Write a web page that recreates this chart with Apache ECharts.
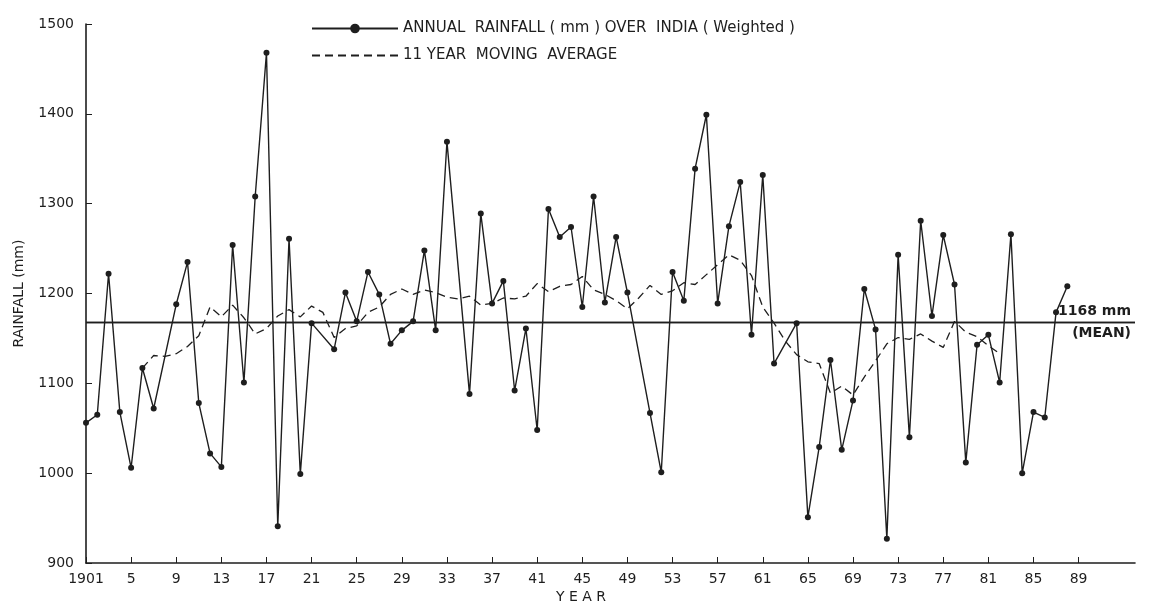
<!DOCTYPE html>
<html>
<head>
<meta charset="UTF-8">
<title>Annual rainfall over India</title>
<script src="https://cdn.jsdelivr.net/npm/echarts@6/dist/echarts.min.js"></script>
<style>
  html, body { margin: 0; padding: 0; background: #fff; }
</style>
</head>
<body>
<div id="main" style="width:1160px;height:608px;"></div>
<script type="text/javascript">
// years on the axis (axis runs a bit past the last label like the original)
var years = [];
for (var y = 1901; y <= 1994; y++) years.push(String(y));

// annual rainfall (mm), 1901-1988; null = no dot drawn, line passes straight through
var rainfall = [
  1056, 1065, 1222, 1068, 1006, 1117, 1072, null, 1188, 1235,
  1078, 1022, 1007, 1254, 1101, 1308, 1468, 941, 1261, 999,
  1167, null, 1138, 1201, 1169, 1224, 1199, 1144, 1159, 1169,
  1248, 1159, 1369, null, 1088, 1289, 1189, 1214, 1092, 1161,
  1048, 1294, 1263, 1274, 1185, 1308, 1190, 1263, 1201, null,
  1067, 1001, 1224, 1192, 1339, 1399, 1189, 1275, 1324, 1154,
  1332, 1122, null, 1167, 951, 1029, 1126, 1026, 1081, 1205,
  1160, 927, 1243, 1040, 1281, 1175, 1265, 1210, 1012, 1143,
  1154, 1101, 1266, 1000, 1068, 1062, 1179, 1208
];

// 11 year moving average, 1906-1982
var movingAvg = [
  null, null, null, null, null,
  1117, 1131, 1130, 1133, 1141, 1153, 1185, 1174, 1187, 1173,
  1155, 1161, 1175, 1182, 1174, 1186, 1179, 1151, 1161, 1164,
  1179, 1185, 1199, 1205, 1199, 1204, 1201, 1196, 1194, 1197,
  1187, 1189, 1195, 1194, 1197, 1211, 1202, 1208, 1210, 1219,
  1204, 1199, 1192, 1183, 1195, 1209, 1199, 1203, 1212, 1210,
  1221, 1232, 1243, 1237, 1220, 1185, 1167, 1147, 1132, 1124,
  1122, 1089, 1097, 1087, 1107, 1125, 1144, 1151, 1149, 1155,
  1147, 1140, 1169, 1157, 1152, 1142, 1133
];

var meanRain = 1168;
var yTicks = { min: 900, max: 1500, step: 100 };

var ink = '#1e1e1e';
var font = 'DejaVu Sans';

var rainName = 'ANNUAL  RAINFALL ( mm ) OVER  INDIA ( Weighted )';
var avgName = '11 YEAR  MOVING  AVERAGE';

// label every 4th year: 1901, 5, 9 ... 89
function showYear(idx) {
  return idx % 4 === 0 && Number(years[idx]) <= 1989;
}

var myChart = echarts.init(document.getElementById('main'));

var option = {
  backgroundColor: '#ffffff',
  animation: false,
  textStyle: { fontFamily: font, color: ink },
  legend: {
    orient: 'vertical',
    left: 306,
    top: 16,
    itemWidth: 86,
    itemHeight: 12,
    itemGap: 12,
    textStyle: { fontFamily: font, fontSize: 15, color: ink },
    data: [
      { name: rainName },
      { name: avgName, itemStyle: { opacity: 0 } }
    ]
  },
  grid: { left: 86, right: 25, top: 24, bottom: 45 },
  xAxis: {
    type: 'category',
    data: years,
    boundaryGap: false,
    axisLine: { lineStyle: { color: ink, width: 1.6 } },
    axisTick: { inside: true, length: 6, interval: showYear, lineStyle: { color: ink } },
    axisLabel: {
      interval: showYear,
      margin: 9,
      fontSize: 14,
      color: ink,
      formatter: function (v) {
        return v === '1901' ? v : String(Number(v) % 100);
      }
    },
    splitLine: { show: false }
  },
  yAxis: {
    type: 'value',
    min: yTicks.min,
    max: yTicks.max,
    interval: yTicks.step,
    name: 'RAINFALL (mm)',
    nameLocation: 'middle',
    nameGap: 60,
    nameTextStyle: { fontSize: 14, color: ink },
    axisLine: { show: true, lineStyle: { color: ink, width: 1.6 } },
    axisTick: { show: true, inside: true, length: 6, lineStyle: { color: ink } },
    axisLabel: {
      fontSize: 14,
      color: ink,
      margin: 12,
      formatter: function (v) { return String(v); }
    },
    splitLine: { show: false }
  },
  graphic: [{
    type: 'text',
    left: 556,
    top: 590,
    style: { text: 'Y E A R', font: '14px "DejaVu Sans"', fill: ink }
  }],
  series: [
    {
      name: rainName,
      type: 'line',
      data: rainfall,
      connectNulls: true,
      symbol: 'circle',
      symbolSize: 6,
      itemStyle: { color: ink },
      lineStyle: { color: ink, width: 1.4 },
      z: 3,
      markLine: {
        silent: true,
        symbol: 'none',
        lineStyle: { color: ink, width: 1.3, type: 'solid' },
        label: { fontFamily: font, fontSize: 14, color: ink, fontWeight: 'bold' },
        data: [
          { yAxis: meanRain, label: { position: 'insideEndTop', formatter: meanRain + ' mm', distance: 4 } },
          { yAxis: meanRain, label: { position: 'insideEndBottom', formatter: '(MEAN)', distance: 4 } }
        ]
      }
    },
    {
      name: avgName,
      type: 'line',
      data: movingAvg,
      symbol: 'none',
      itemStyle: { color: ink },
      lineStyle: { color: ink, width: 1.3, type: [8, 5] },
      z: 2
    }
  ]
};

myChart.setOption(option);
</script>
</body>
</html>
